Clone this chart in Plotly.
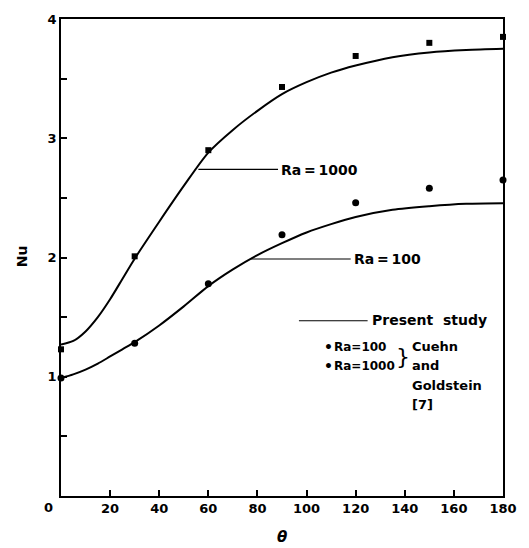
import plotly.graph_objects as go

# ---- data ----
theta_pts = [0, 30, 60, 90, 120, 150, 180]
nu_ra100_pts = [0.99, 1.28, 1.78, 2.19, 2.46, 2.58, 2.65]     # Cuehn & Goldstein, Ra=100
nu_ra1000_pts = [1.23, 2.01, 2.90, 3.43, 3.69, 3.80, 3.85]    # Cuehn & Goldstein, Ra=1000

theta_curve = [0, 5, 10, 15, 20, 25, 30, 40, 50, 60, 70, 80, 90, 100, 110, 120, 135, 150, 165, 180]
nu_ra1000_curve = [1.27, 1.30, 1.38, 1.50, 1.65, 1.82, 1.99, 2.30, 2.60, 2.88, 3.07, 3.23, 3.37,
                   3.47, 3.55, 3.61, 3.68, 3.72, 3.74, 3.75]
nu_ra100_curve = [0.99, 1.02, 1.06, 1.11, 1.17, 1.23, 1.29, 1.43, 1.59, 1.76, 1.90, 2.02, 2.12,
                  2.21, 2.28, 2.34, 2.40, 2.43, 2.45, 2.455]

x_ticks = [20, 40, 60, 80, 100, 120, 140, 160, 180]
y_ticks = [0.5, 1, 1.5, 2, 2.5, 3, 3.5, 4]
y_ticktext = ["", "1", "", "2", "", "3", "", "4"]

FONT = "DejaVu Sans"
W, H = 529, 548
L, R, T, B = 61, 24, 17, 52
PW, PH = W - L - R, H - T - B
TS = "\u2009"  # thin space


def px(xp, yp):
    return (xp - L) / PW, (H - B - yp) / PH


fig = go.Figure()
line_style = dict(color="black", width=2, shape="spline", smoothing=0.8)
fig.add_trace(go.Scatter(x=theta_curve, y=nu_ra1000_curve, mode="lines", line=line_style, showlegend=False))
fig.add_trace(go.Scatter(x=theta_curve, y=nu_ra100_curve, mode="lines", line=line_style, showlegend=False))
fig.add_trace(go.Scatter(x=theta_pts, y=nu_ra1000_pts, mode="markers", marker=dict(symbol="square", size=6, color="black"), cliponaxis=False, showlegend=False))
fig.add_trace(go.Scatter(x=theta_pts, y=nu_ra100_pts, mode="markers", marker=dict(symbol="circle", size=7, color="black"), cliponaxis=False, showlegend=False))

anns = []
shapes = []


def text(s, xp, yp, size=13, anchor="left", weight="bold", **kw):
    x, y = px(xp, yp)
    anns.append(dict(text=s, x=x, y=y, xref="paper", yref="paper", xanchor=anchor, yanchor="middle",
                     showarrow=False, font=dict(family=FONT, size=size, color="black", weight=weight), **kw))


def hline(x0p, x1p, yp):
    x0, y = px(x0p, yp)
    x1, _ = px(x1p, yp)
    shapes.append(dict(type="line", xref="paper", yref="paper", x0=x0, x1=x1, y0=y, y1=y, line=dict(color="black", width=1.2)))


# curve labels
hline(199, 279, 168)
text(f"Ra{TS}={TS}1000", 280, 169, size=14)
hline(252, 352, 258)
text(f"Ra{TS}={TS}100", 353, 258, size=14)

# legend
hline(300, 369, 320)
text("Present  study", 371, 319, size=14)
text("•", 323, 346, size=14)
text("Ra=100", 333, 346, size=12)
text("•", 323, 365, size=14)
text("Ra=1000", 333, 365, size=12)
text("}", 396, 356, size=22, weight="normal")
text("Cuehn", 412, 346)
text("and", 412, 365)
text("Goldstein", 412, 385)
text("[7]", 412, 404)

# axis titles and 0 label
text("Nu", 22, 255, size=14, anchor="center", textangle=-90)
text("<i>θ</i>", 283, 537, size=15, anchor="center")
text("0", 48, 508, size=13, anchor="center")

fig.update_layout(
    width=W, height=H, margin=dict(l=L, r=R, t=T, b=B),
    paper_bgcolor="white", plot_bgcolor="white",
    font=dict(family=FONT, size=13, color="black", weight="bold"),
    annotations=anns, shapes=shapes,
    xaxis=dict(range=[0, 180], tickvals=x_ticks, ticks="inside", ticklen=6, tickwidth=1.5, tickcolor="black",
               showline=True, linecolor="black", linewidth=1.5, mirror=True, showgrid=False, zeroline=False,
               tickfont=dict(family=FONT, size=13, weight="bold")),
    yaxis=dict(range=[0, 4], tickvals=y_ticks, ticktext=y_ticktext, ticks="inside", ticklen=6, tickwidth=1.5,
               tickcolor="black", showline=True, linecolor="black", linewidth=1.5, mirror=True, showgrid=False,
               zeroline=False, tickfont=dict(family=FONT, size=13, weight="bold")),
)

fig.write_html("out.html", config={"displayModeBar": False},
               post_script="document.body.style.margin='0';document.body.style.overflow='hidden';")
